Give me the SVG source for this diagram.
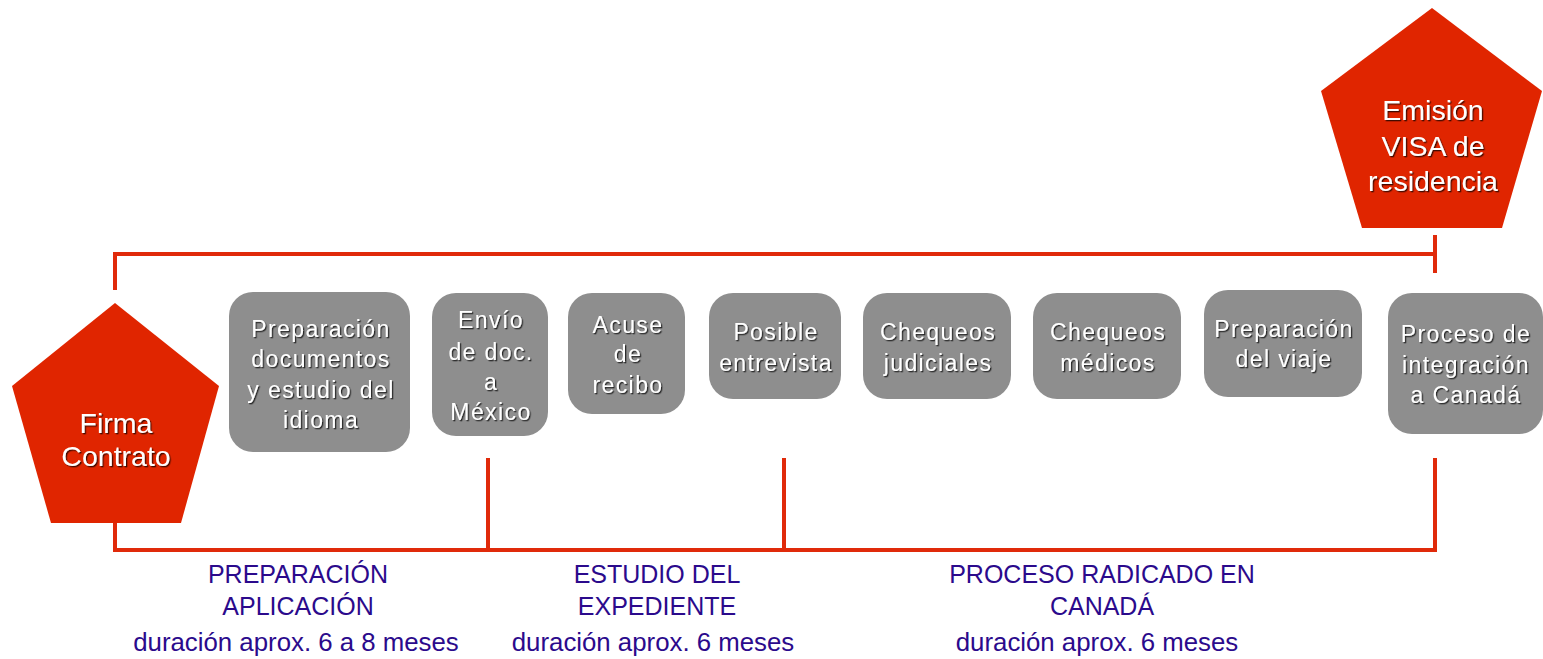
<svg xmlns="http://www.w3.org/2000/svg" width="1543" height="659" viewBox="0 0 1543 659">
<defs>
<filter id="ts" x="-10%" y="-20%" width="130%" height="150%">
<feDropShadow dx="1.3" dy="1.3" stdDeviation="0.5" flood-color="#000" flood-opacity="0.7"/>
</filter>
<style>
.pent{fill:#e02500}
.box{fill:#8e8e8e}
.bt{font-family:"Liberation Sans",Arial,sans-serif;font-size:23px;letter-spacing:1.4px;fill:#fff;text-anchor:middle;filter:url(#ts)}
.pt{font-family:"Liberation Sans",Arial,sans-serif;font-size:28.5px;fill:#fff;text-anchor:middle;filter:url(#ts)}
.lbl{font-family:"Liberation Sans",Arial,sans-serif;font-size:25px;fill:#2b0a8c;text-anchor:middle}
.dur{font-size:25.8px}
.ln{stroke:#e02a0a;stroke-width:4;fill:none}
</style>
</defs>
<g id="connectors">
<polyline class="ln" points="115,290 115,254 1436,254"/>
<line class="ln" x1="1435" y1="235" x2="1435" y2="273"/>
<polyline class="ln" points="115,523 115,550 1437,550"/>
<line class="ln" x1="488" y1="458" x2="488" y2="550"/>
<line class="ln" x1="784" y1="458" x2="784" y2="550"/>
<line class="ln" x1="1435" y1="458" x2="1435" y2="550"/>
</g>
<g id="firma">
<polygon class="pent" points="115,303 219,386 181,523 51,523 12,386"/>
<text class="pt" x="116" y="433">Firma</text>
<text class="pt" x="116" y="466">Contrato</text>
</g>
<g id="emision">
<polygon class="pent" points="1432,8 1542,91 1502,228 1362,228 1321,91"/>
<text class="pt" x="1433" y="120">Emisión</text>
<text class="pt" x="1433" y="156">VISA de</text>
<text class="pt" x="1433" y="191">residencia</text>
</g>
<g id="n1">
<rect class="box" x="229" y="292" width="181" height="160" rx="24"/>
<text class="bt" x="321" y="337">Preparación</text>
<text class="bt" x="321" y="367">documentos</text>
<text class="bt" x="321" y="398">y estudio del</text>
<text class="bt" x="321" y="428">idioma</text>
</g>
<g id="n2">
<rect class="box" x="432" y="293" width="116" height="143" rx="24"/>
<text class="bt" x="491" y="328">Envío</text>
<text class="bt" x="491" y="360">de doc.</text>
<text class="bt" x="491" y="390">a</text>
<text class="bt" x="491" y="420">México</text>
</g>
<g id="n3">
<rect class="box" x="568" y="293" width="117" height="121" rx="24"/>
<text class="bt" x="628" y="333">Acuse</text>
<text class="bt" x="628" y="362">de</text>
<text class="bt" x="628" y="393">recibo</text>
</g>
<g id="n4">
<rect class="box" x="709" y="293" width="132" height="106" rx="24"/>
<text class="bt" x="776" y="340">Posible</text>
<text class="bt" x="776" y="371">entrevista</text>
</g>
<g id="n5">
<rect class="box" x="863" y="293" width="148" height="106" rx="24"/>
<text class="bt" x="938" y="340">Chequeos</text>
<text class="bt" x="938" y="371">judiciales</text>
</g>
<g id="n6">
<rect class="box" x="1033" y="293" width="148" height="106" rx="24"/>
<text class="bt" x="1108" y="340">Chequeos</text>
<text class="bt" x="1108" y="371">médicos</text>
</g>
<g id="n7">
<rect class="box" x="1204" y="290" width="158" height="107" rx="24"/>
<text class="bt" x="1284" y="337">Preparación</text>
<text class="bt" x="1284" y="367">del viaje</text>
</g>
<g id="n8">
<rect class="box" x="1388" y="293" width="155" height="141" rx="24"/>
<text class="bt" x="1466" y="342">Proceso de</text>
<text class="bt" x="1466" y="373">integración</text>
<text class="bt" x="1466" y="403">a Canadá</text>
</g>
<g id="labels">
<text class="lbl" x="298" y="583">PREPARACIÓN</text>
<text class="lbl" x="298" y="615">APLICACIÓN</text>
<text class="lbl dur" x="296" y="651">duración aprox. 6 a 8 meses</text>
<text class="lbl" x="657" y="583">ESTUDIO DEL</text>
<text class="lbl" x="657" y="615">EXPEDIENTE</text>
<text class="lbl dur" x="653" y="651">duración aprox. 6 meses</text>
<text class="lbl" x="1102" y="583">PROCESO RADICADO EN</text>
<text class="lbl" x="1102" y="615">CANADÁ</text>
<text class="lbl dur" x="1097" y="651">duración aprox. 6 meses</text>
</g>
</svg>
